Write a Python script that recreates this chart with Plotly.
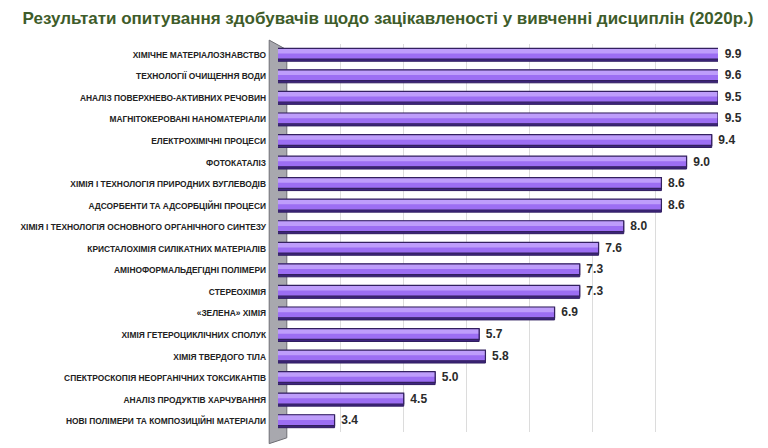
import plotly.graph_objects as go

categories = [
    "ХІМІЧНЕ МАТЕРІАЛОЗНАВСТВО",
    "ТЕХНОЛОГІЇ ОЧИЩЕННЯ ВОДИ",
    "АНАЛІЗ ПОВЕРХНЕВО-АКТИВНИХ РЕЧОВИН",
    "МАГНІТОКЕРОВАНІ НАНОМАТЕРІАЛИ",
    "ЕЛЕКТРОХІМІЧНІ ПРОЦЕСИ",
    "ФОТОКАТАЛІЗ",
    "ХІМІЯ І ТЕХНОЛОГІЯ ПРИРОДНИХ ВУГЛЕВОДІВ",
    "АДСОРБЕНТИ ТА АДСОРБЦІЙНІ ПРОЦЕСИ",
    "ХІМІЯ І ТЕХНОЛОГІЯ ОСНОВНОГО ОРГАНІЧНОГО СИНТЕЗУ",
    "КРИСТАЛОХІМІЯ СИЛІКАТНИХ МАТЕРІАЛІВ",
    "АМІНОФОРМАЛЬДЕГІДНІ ПОЛІМЕРИ",
    "СТЕРЕОХІМІЯ",
    "«ЗЕЛЕНА» ХІМІЯ",
    "ХІМІЯ ГЕТЕРОЦИКЛІЧНИХ СПОЛУК",
    "ХІМІЯ ТВЕРДОГО ТІЛА",
    "СПЕКТРОСКОПІЯ НЕОРГАНІЧНИХ ТОКСИКАНТІВ",
    "АНАЛІЗ ПРОДУКТІВ ХАРЧУВАННЯ",
    "НОВІ ПОЛІМЕРИ ТА КОМПОЗИЦІЙНІ МАТЕРІАЛИ",
]
values = [9.9, 9.6, 9.5, 9.5, 9.4, 9.0, 8.6, 8.6, 8.0, 7.6, 7.3, 7.3, 6.9, 5.7, 5.8, 5.0, 4.5, 3.4]
title = "Результати опитування здобувачів щодо зацікавленості у вивченні дисциплін (2020р.)"

XMIN, XMAX = 2.5, 9.5
label_x = [min(v, XMAX) for v in values]

fig = go.Figure()
# darker underside (3D depth)
fig.add_trace(go.Bar(
    y=categories, x=values, orientation="h",
    width=0.58, offset=-0.28,
    marker=dict(color="#3F2680", line=dict(color="#2E1B5E", width=1)),
    hoverinfo="skip", showlegend=False,
))
# front face (lower, darker tone)
fig.add_trace(go.Bar(
    y=categories, x=values, orientation="h",
    width=0.5, offset=-0.30,
    marker=dict(color="#9C6EF3", line=dict(width=0)),
    showlegend=False,
))
# front face highlight (upper, lighter tone)
fig.add_trace(go.Bar(
    y=categories, x=values, orientation="h",
    width=0.24, offset=-0.30,
    marker=dict(color="#BE9DFB", line=dict(width=0)),
    hoverinfo="skip", showlegend=False,
))
# outline
fig.add_trace(go.Bar(
    y=categories, x=values, orientation="h",
    width=0.5, offset=-0.30,
    marker=dict(color="rgba(0,0,0,0)", line=dict(color="#33205F", width=1.2)),
    hoverinfo="skip", showlegend=False,
))
fig.add_trace(go.Scatter(
    y=categories, x=label_x, mode="text",
    text=[f"{v:.1f}" for v in values],
    texttemplate="  %{text}",
    textposition="middle right",
    textfont=dict(family="Liberation Sans, Arial", size=12, color="#2b2b2b", weight="bold"),
    cliponaxis=False, showlegend=False, hoverinfo="skip",
))

# left 3D wall
fig.add_shape(type="path", xref="paper", yref="paper", layer="below",
              path="M -0.02,1.01 L 0.02,0.985 L 0.02,-0.015 L -0.02,-0.03 Z",
              fillcolor="#A8A8AE", line=dict(color="#6E6E74", width=1))

fig.update_layout(
    width=760, height=440,
    margin=dict(l=263, r=50, t=36, b=16),
    paper_bgcolor="white", plot_bgcolor="white",
    barmode="overlay",
    title=dict(text=title, x=0.5, xanchor="center", y=0.99, yanchor="top",
               font=dict(family="Liberation Sans, Arial", size=17, color="#3E5C2A", weight="bold")),
    xaxis=dict(range=[XMIN, XMAX], dtick=1, tick0=3.5, showticklabels=False,
               showgrid=True, gridcolor="#DCDCDC", gridwidth=1, zeroline=False,
               showline=False, fixedrange=True),
    yaxis=dict(range=[len(categories) - 0.5, -0.5], type="category", showgrid=False,
               ticks="", ticklabelstandoff=11,
               tickfont=dict(family="Liberation Sans, Arial", size=8.4, color="#222222", weight="bold"),
               showline=False),
)

fig.write_html("out.html")
